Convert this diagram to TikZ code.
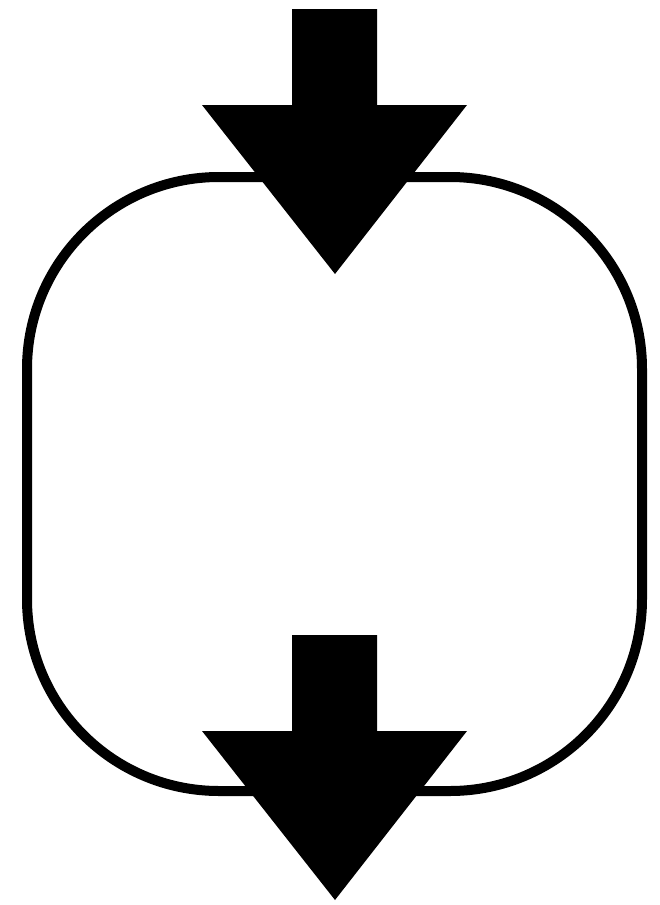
\documentclass[tikz,border=0pt]{standalone}
\usepackage{tikz}
\usetikzlibrary{calc}

\tikzset{
  loopline/.style={draw=black, line width=10pt, rounded corners=192pt},
  blockarrow/.style={fill=black}
}

\begin{document}
\begin{tikzpicture}[x=1pt, y=-1pt]
  \useasboundingbox (0,0) rectangle (660,905);

  % Rounded loop
  \draw[loopline] (27,177) rectangle (642,791);

  % Block arrows (top and bottom)
  \foreach \t in {9,635}{
    \fill[blockarrow] (292,\t) -- (377,\t) -- (377,\t+96) -- (467,\t+96)
      -- (335,\t+265) -- (202,\t+96) -- (292,\t+96) -- cycle;
  }
\end{tikzpicture}
\end{document}
